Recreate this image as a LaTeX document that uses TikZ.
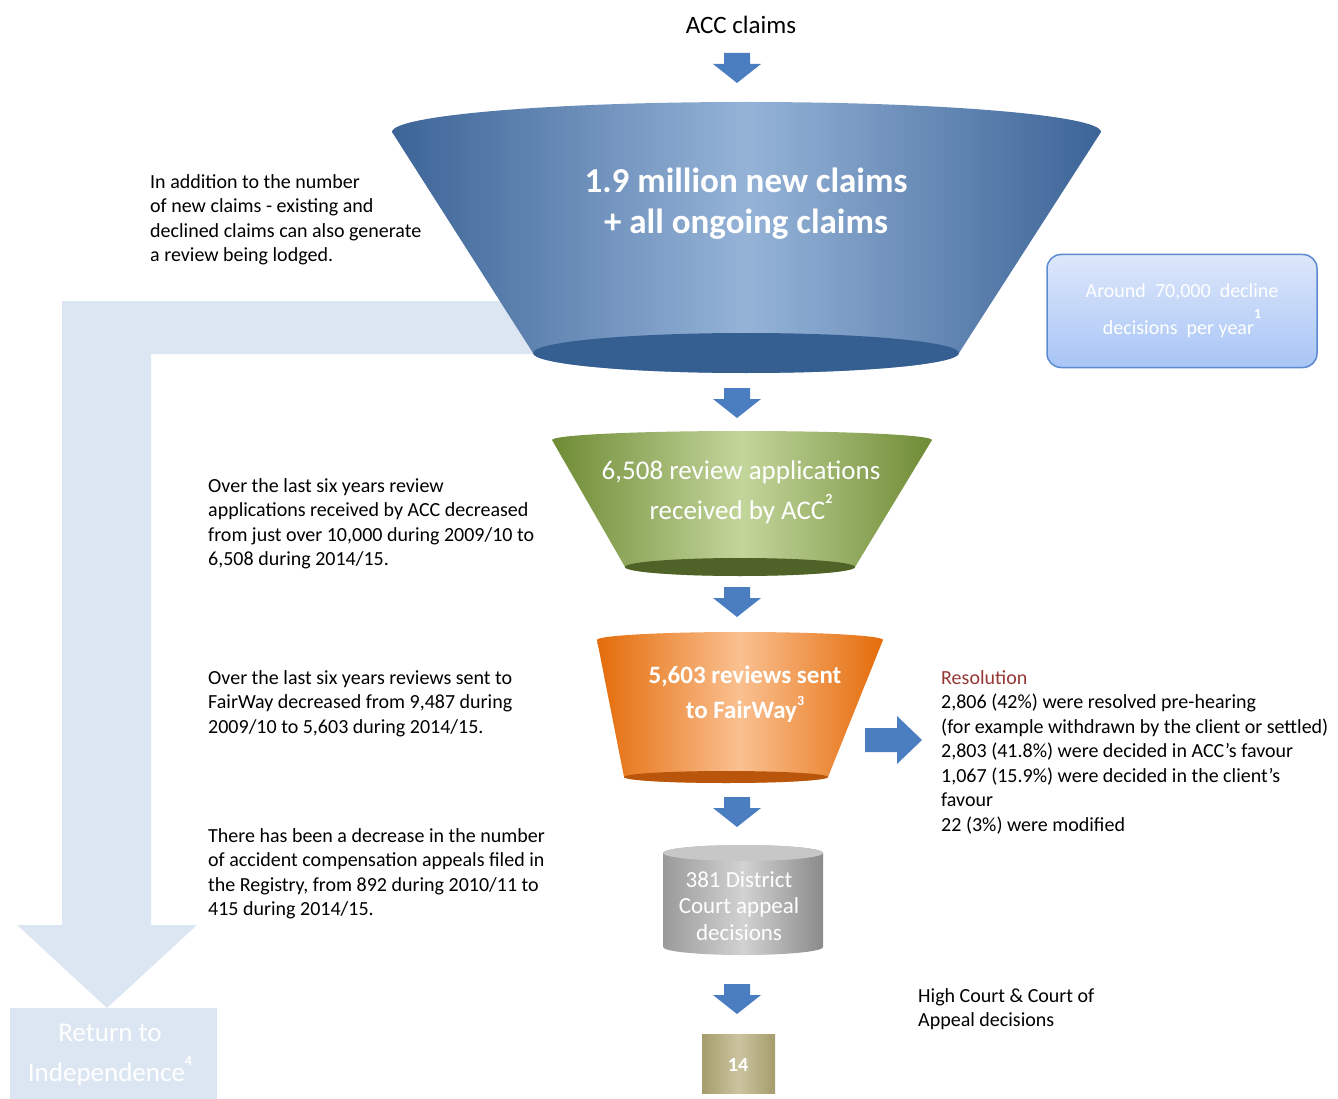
\documentclass[tikz,border=0pt]{standalone}
\usepackage{fontspec}
\setmainfont{Carlito}
\usepackage{tikz}
\usetikzlibrary{positioning,calc}

\definecolor{arrowblue}{HTML}{4A7EC0}
\definecolor{bandblue}{HTML}{DCE6F2}
\definecolor{funnelblue}{HTML}{3C6497}
\definecolor{funnelbluelt}{HTML}{95B3D7}
\definecolor{funnelbluedk}{HTML}{365F91}
\definecolor{funnelgreen}{HTML}{6F8B35}
\definecolor{funnelgreenlt}{HTML}{C3D69B}
\definecolor{funnelgreendk}{HTML}{4F6228}
\definecolor{funnelorange}{HTML}{E46C0A}
\definecolor{funnelorangelt}{HTML}{FAC090}
\definecolor{funnelorangedk}{HTML}{B9560B}
\definecolor{cylgray}{HTML}{9A9A9A}
\definecolor{cylgraylt}{HTML}{D2D2D2}
\definecolor{khaki}{HTML}{A59D6C}
\definecolor{khakilt}{HTML}{CBC49F}
\definecolor{declinetop}{HTML}{DDE7FA}
\definecolor{declinebot}{HTML}{A8C5F6}
\definecolor{declineedge}{HTML}{5B8AD0}
\definecolor{resred}{HTML}{953735}

\tikzset{
  note/.style={align=left, inner sep=0pt, anchor=north west, font=\fontsize{20}{24.5}\selectfont},
  inlabel/.style={align=center, inner sep=0pt, text=white},
  downarr/.pic={\fill[arrowblue] (-13,0) -- (13,0) -- (13,11) -- (24,11) -- (0,30) -- (-24,11) -- (-13,11) -- cycle;},
  rightarr/.pic={\fill[arrowblue] (0,-12) -- (32,-12) -- (32,-24) -- (57,0) -- (32,24) -- (32,12) -- (0,12) -- cycle;}
}

\newcommand{\fnote}[2]{\raisebox{#2}{\bfseries\fontsize{14}{14}\selectfont #1}}

\begin{document}
\begin{tikzpicture}[x=1pt, y=-1pt]
    \useasboundingbox (0,0) rectangle (1338,1099);

    % Return to independence band
    \fill[bandblue] (62,301) -- (600,301) -- (600,354) -- (151,354) -- (151,925)
        -- (197,925) -- (107,1008) -- (17,925) -- (62,925) -- cycle;
    \fill[bandblue] (10,1008) rectangle (217,1099);
    \node[inlabel, font=\fontsize{27}{40}\selectfont] (ret) at (110,1055)
        {Return to\\ Independence\fnote{4}{16pt}};

    % Title and down arrows
    \node[inner sep=0pt, font=\fontsize{25}{30}\selectfont] (acc) at (741,25) {ACC claims};
    \foreach \ty in {53,388,587,797,984} {
        \pic at (737,\ty) {downarr};
    }

    % Claims funnel
    \shade[left color=funnelblue, right color=funnelblue, middle color=funnelbluelt]
        (392,132) arc[start angle=180, end angle=360, x radius=354.5, y radius=30]
        -- (959,353) arc[start angle=0, end angle=180, x radius=213, y radius=20] -- cycle;
    \fill[funnelbluedk] (746,353) ellipse [x radius=213, y radius=20];
    \node[inlabel, font=\bfseries\fontsize{35}{41}\selectfont] (claims) at (746,204)
        {1.9 million new claims\\ + all ongoing claims};

    % Review funnel
    \shade[left color=funnelgreen, right color=funnelgreen, middle color=funnelgreenlt]
        (552,440) arc[start angle=180, end angle=360, x radius=190, y radius=9]
        -- (855,567) arc[start angle=0, end angle=180, x radius=115, y radius=9] -- cycle;
    \fill[funnelgreendk] (740,567) ellipse [x radius=115, y radius=9];
    \node[inlabel, font=\fontsize{27}{40}\selectfont] (review) at (741,492)
        {6,508 review applications\\ received by ACC\fnote{2}{16pt}};

    % FairWay funnel
    \shade[left color=funnelorange, right color=funnelorange, middle color=funnelorangelt]
        (597,640) arc[start angle=180, end angle=360, x radius=143, y radius=8]
        -- (828,777) arc[start angle=0, end angle=180, x radius=102, y radius=6] -- cycle;
    \fill[funnelorangedk] (726,777) ellipse [x radius=102, y radius=6];
    \node[inlabel, font=\bfseries\fontsize{25}{35}\selectfont] (fairway) at (745,694)
        {5,603 reviews sent\\ to FairWay\fnote{3}{13pt}};
    \pic at (865,740) {rightarr};

    % District court cylinder
    \shade[left color=cylgray, right color=cylgray!90!black, middle color=cylgraylt]
        (663,853) -- (663,947) arc[start angle=180, end angle=0, x radius=80, y radius=8]
        -- (823,853) arc[start angle=0, end angle=-180, x radius=80, y radius=8] -- cycle;
    \fill[cylgraylt!80!cylgray] (743,853) ellipse [x radius=80, y radius=8];
    \node[inlabel, font=\fontsize{23}{26.5}\selectfont] (district) at (739,906)
        {381 District\\ Court appeal\\ decisions};

    % High court box
    \shade[left color=khaki, right color=khaki, middle color=khakilt] (702,1034) rectangle (775,1093);
    \node[inlabel, font=\bfseries\fontsize{20}{24}\selectfont] (high) at (738,1065) {14};

    % Decline box
    \node[draw=declineedge, line width=1.5pt, rounded corners=14pt, top color=declinetop,
        bottom color=declinebot, minimum width=270pt, minimum height=113pt, inlabel,
        font=\fontsize{20}{37}\selectfont] (decline) at (1182,311)
        {Around\ \ 70,000\ \ decline\\ decisions\ \ per year\fnote{1}{16pt}};

    % Notes
    \node[note] (n1) at (150,174) {In addition to the number\\ of new claims - existing and\\
        declined claims can also generate\\ a review being lodged.};
    \node[note] (n2) at (208,478) {Over the last six years review\\ applications received by ACC decreased\\
        from just over 10,000 during 2009/10 to\\ 6,508 during 2014/15.};
    \node[note] (n3) at (208,670) {Over the last six years reviews sent to\\ FairWay decreased from 9,487 during\\
        2009/10 to 5,603 during 2014/15.};
    \node[note] (n4) at (208,828) {There has been a decrease in the number\\ of accident compensation appeals filed in\\
        the Registry, from 892 during 2010/11 to\\ 415 during 2014/15.};
    \node[note] (res) at (941,670) {{\color{resred}Resolution}\\ 2,806 (42\%) were resolved pre-hearing\\
        (for example withdrawn by the client or settled)\\ 2,803 (41.8\%) were decided in ACC's favour\\
        1,067 (15.9\%) were decided in the client's\\ favour\\ 22 (3\%) were modified};
    \node[note] (courts) at (918,988) {High Court \& Court of\\ Appeal decisions};
\end{tikzpicture}
\end{document}
